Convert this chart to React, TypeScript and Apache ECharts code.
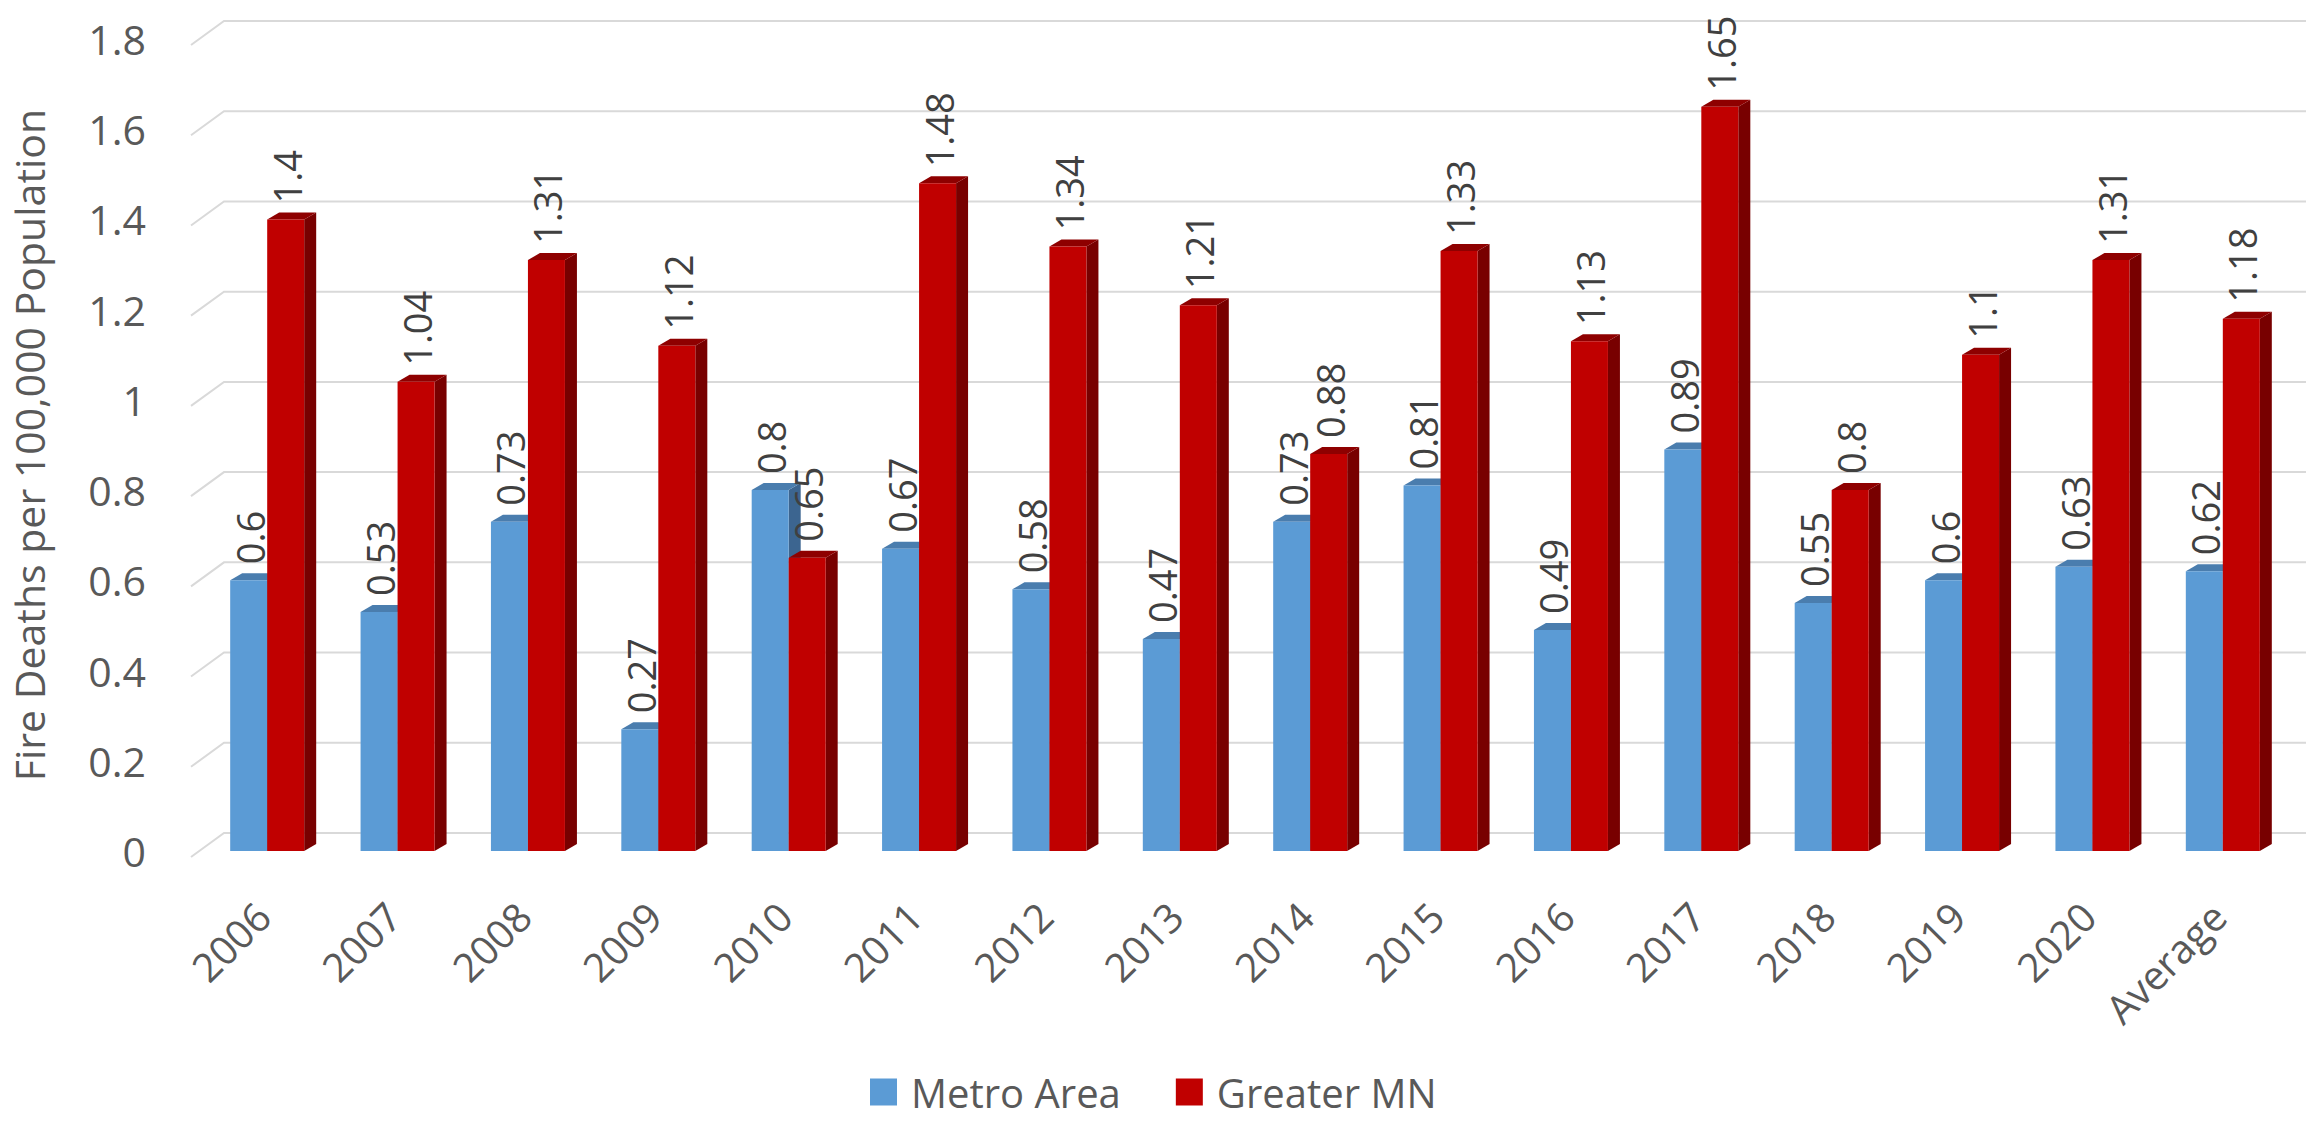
import React, { useEffect, useRef } from "react";
import * as echarts from "echarts";

const categories = ["2006", "2007", "2008", "2009", "2010", "2011", "2012", "2013", "2014", "2015", "2016", "2017", "2018", "2019", "2020", "Average"];
const metroArea = [0.6, 0.53, 0.73, 0.27, 0.8, 0.67, 0.58, 0.47, 0.73, 0.81, 0.49, 0.89, 0.55, 0.6, 0.63, 0.62];
const greaterMN = [1.4, 1.04, 1.31, 1.12, 0.65, 1.48, 1.34, 1.21, 0.88, 1.33, 1.13, 1.65, 0.8, 1.1, 1.31, 1.18];
const yTicks = [0, 0.2, 0.4, 0.6, 0.8, 1, 1.2, 1.4, 1.6, 1.8];

const FONT = "Open Sans";
const TEXT = "#595959";
const BW = 37;
const DX = 12;
const DY = 7;

function barRenderer(side: "left" | "right", front: string, top: string, sideC: string) {
  return (params: any, api: any) => {
    const idx = api.value(0);
    const v = api.value(1);
    const p = api.coord([idx, v]);
    const p0 = api.coord([idx, 0]);
    const left = side === "left" ? p[0] - BW : p[0];
    const t = p[1];
    const b = p0[1];
    return {
      type: "group",
      children: [
        {
          type: "polygon",
          shape: { points: [[left + BW, t], [left + BW + DX, t - DY], [left + BW + DX, b - DY], [left + BW, b]] },
          style: { fill: sideC },
        },
        {
          type: "polygon",
          shape: { points: [[left, t], [left + DX, t - DY], [left + BW + DX, t - DY], [left + BW, t]] },
          style: { fill: top },
        },
        {
          type: "rect",
          shape: { x: left, y: t, width: BW, height: b - t },
          style: { fill: front },
        },
        {
          type: "text",
          x: left + BW / 2 + 1,
          y: t - DY - 9,
          rotation: Math.PI / 2,
          style: {
            text: String(v),
            fontSize: 38,
            fontFamily: FONT,
            fill: "#404040",
            align: "left",
            verticalAlign: "middle",
          },
        },
      ],
    };
  };
}

export default function App() {
  const ref = useRef<HTMLDivElement>(null);
  useEffect(() => {
    document.body.style.margin = "0";
    const chart = echarts.init(ref.current!, null, { renderer: "svg" });
    chart.setOption({
      animation: false,
      backgroundColor: "#ffffff",
      grid: { left: 187, top: 39, width: 2101, height: 812, containLabel: false },
      legend: {
        left: 870,
        top: 1072,
        padding: 0,
        itemWidth: 27,
        itemHeight: 27,
        itemGap: 55,
        icon: "rect",
        data: ["Metro Area", "Greater MN"],
        textStyle: { fontSize: 40, fontFamily: FONT, color: TEXT, padding: [0, 0, 0, 9], lineHeight: 40 },
      },
      xAxis: {
        type: "category",
        data: categories,
        axisLine: { show: false },
        axisTick: { show: false },
        splitLine: { show: false },
        axisLabel: {
          interval: 0,
          rotate: 45,
          margin: 54,
          fontSize: 40,
          fontFamily: FONT,
          color: TEXT,
          padding: [0, 6, 0, 0],
        },
      },
      yAxis: {
        type: "value",
        min: 0,
        max: 1.8,
        interval: 0.2,
        name: "Fire Deaths per 100,000 Population",
        nameLocation: "middle",
        nameRotate: 90,
        nameGap: 153,
        nameTextStyle: { fontSize: 41, fontFamily: FONT, color: TEXT },
        axisLine: { show: false },
        axisTick: { show: false },
        splitLine: { show: false },
        axisLabel: {
          margin: 56,
          fontSize: 41,
          fontFamily: FONT,
          color: TEXT,
          padding: [16, 0, 0, 0],
          formatter: (v: number) => String(Math.round(v * 10) / 10),
        },
      },
      series: [
        {
          type: "custom",
          name: "grid",
          z: 1,
          silent: true,
          data: yTicks.map((v) => [0, v]),
          encode: { x: 0, y: 1 },
          renderItem: (params: any, api: any) => {
            const cs = params.coordSys;
            const y = api.coord([0, api.value(1)])[1];
            return {
              type: "polyline",
              shape: {
                points: [
                  [cs.x - 11, y + 6],
                  [cs.x + 22, y - 18],
                  [cs.x + cs.width + 18, y - 18],
                ],
              },
              style: { stroke: "#d9d9d9", lineWidth: 2, fill: "none" },
            };
          },
        },
        {
          type: "custom",
          name: "Metro Area",
          z: 2,
          itemStyle: { color: "#5B9BD5" },
          data: metroArea.map((v, i) => [i, v]),
          encode: { x: 0, y: 1 },
          renderItem: barRenderer("left", "#5B9BD5", "#4A7DAE", "#3C6590"),
        },
        {
          type: "custom",
          name: "Greater MN",
          z: 3,
          itemStyle: { color: "#C00000" },
          data: greaterMN.map((v, i) => [i, v]),
          encode: { x: 0, y: 1 },
          renderItem: barRenderer("right", "#C00000", "#8E0000", "#780000"),
        },
      ],
    });
    return () => chart.dispose();
  }, []);
  return <div ref={ref} style={{ width: 2318, height: 1121 }} />;
}
